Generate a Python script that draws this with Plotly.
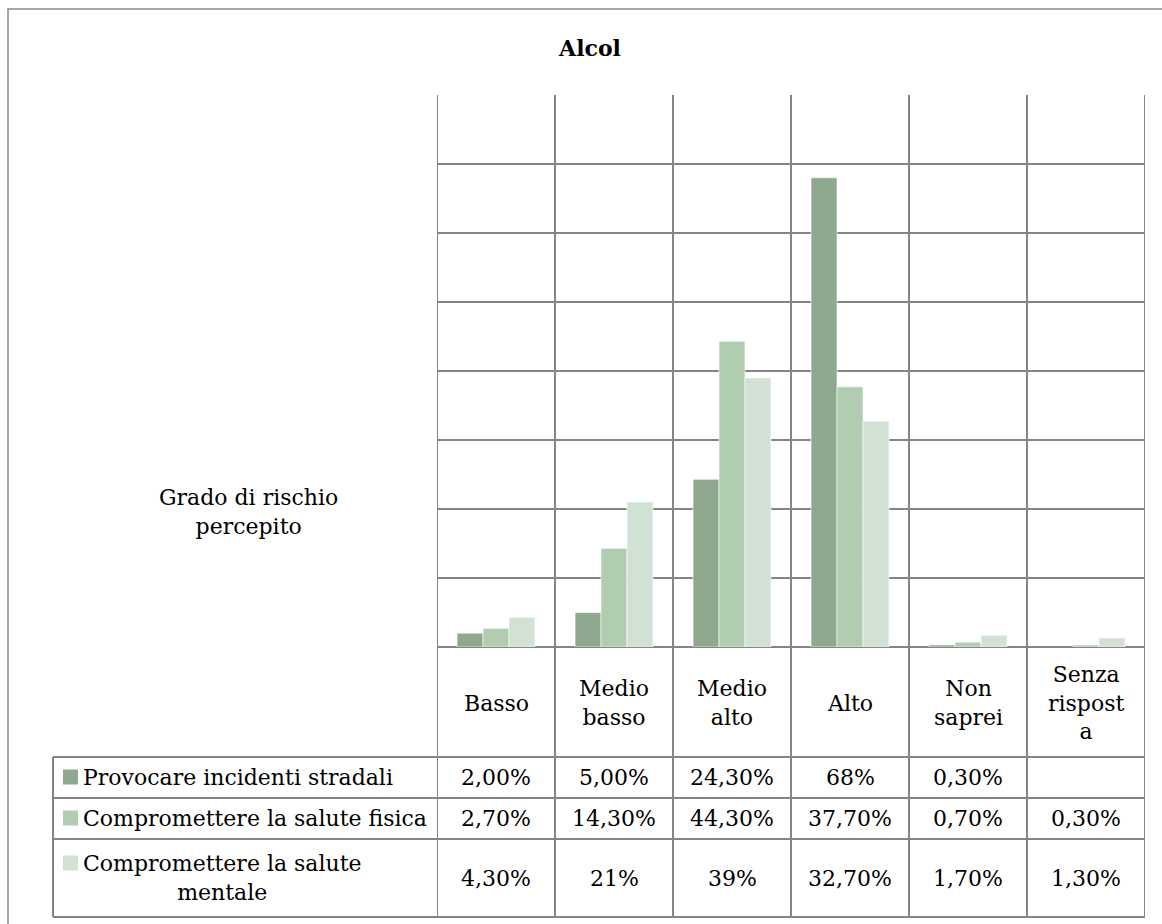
import plotly.graph_objects as go

# ---------------- data ----------------
categories = ["Basso", "Medio basso", "Medio alto", "Alto", "Non saprei", "Senza risposta"]
header_labels = ["Basso", "Medio<br>basso", "Medio<br>alto", "Alto", "Non<br>saprei", "Senza<br>rispost<br>a"]

series_names = ["Provocare incidenti stradali",
                "Compromettere la salute fisica",
                "Compromettere la salute<br>mentale"]
incidenti = [2.0, 5.0, 24.3, 68.0, 0.3, None]
fisica = [2.7, 14.3, 44.3, 37.7, 0.7, 0.3]
mentale = [4.3, 21.0, 39.0, 32.7, 1.7, 1.3]

incidenti_lbl = ["2,00%", "5,00%", "24,30%", "68%", "0,30%", ""]
fisica_lbl = ["2,70%", "14,30%", "44,30%", "37,70%", "0,70%", "0,30%"]
mentale_lbl = ["4,30%", "21%", "39%", "32,70%", "1,70%", "1,30%"]

title_text = "Alcol"
y_title = "Grado di rischio<br>percepito"

# ---------------- style ----------------
colors = ["#8fa98f", "#b0cdb0", "#d1e1d4"]
FONT = "DejaVu Serif"
FS = 22
GRID = "#858585"
W, H = 1162, 924
L, R, T, B = 437, 17, 95, 277
PW, PH = W - L - R, H - T - B


def px_x(px):
    return (px - L) / PW


def px_y(py):
    return (H - B - py) / PH


fig = go.Figure()
for name, vals, col in zip(series_names, [incidenti, fisica, mentale], colors):
    fig.add_trace(go.Bar(x=categories, y=vals, name=name.replace("<br>", " "),
                         marker=dict(color=col, line=dict(color="white", width=0.6))))

shapes = []
# outer frame
shapes.append(dict(type="rect", xref="paper", yref="paper",
                   x0=px_x(8), x1=px_x(1175), y0=px_y(935), y1=px_y(9),
                   line=dict(color="#8a8a8a", width=1.5)))
# vertical category separators (plot + table)
for i in range(len(categories) + 1):
    shapes.append(dict(type="line", xref="x", yref="paper",
                       x0=i - 0.5, x1=i - 0.5, y0=px_y(917), y1=1,
                       line=dict(color=GRID, width=2)))
# table left border
shapes.append(dict(type="line", xref="paper", yref="paper",
                   x0=px_x(53), x1=px_x(53), y0=px_y(917), y1=px_y(757),
                   line=dict(color=GRID, width=2)))
# table horizontal lines
for py in [757, 798, 839, 917]:
    shapes.append(dict(type="line", xref="paper", yref="paper",
                       x0=px_x(53), x1=1, y0=px_y(py), y1=px_y(py),
                       line=dict(color=GRID, width=2)))

annotations = []
# header labels
for i, lab in enumerate(header_labels):
    annotations.append(dict(x=categories[i], xref="x", y=px_y(703), yref="paper",
                            text=lab, showarrow=False, yanchor="middle",
                            font=dict(family=FONT, size=FS, color="black")))
# table values
row_y = [777, 818, 878]
for lbls, ry in zip([incidenti_lbl, fisica_lbl, mentale_lbl], row_y):
    for i, t in enumerate(lbls):
        if t:
            annotations.append(dict(x=categories[i], xref="x", y=px_y(ry), yref="paper",
                                    text=t, showarrow=False, yanchor="middle",
                                    font=dict(family=FONT, size=FS, color="black")))
# legend keys + names
key_y = [777, 818, 863]
for name, col, ry, ky in zip(series_names, colors, row_y, key_y):
    shapes.append(dict(type="rect", xref="paper", yref="paper",
                       x0=px_x(63), x1=px_x(78), y0=px_y(ky + 7.5), y1=px_y(ky - 7.5),
                       fillcolor=col, line=dict(width=0)))
    annotations.append(dict(x=px_x(81), xref="paper", y=px_y(ry), yref="paper",
                            text=name, showarrow=False, xanchor="left", yanchor="middle",
                            align="center",
                            font=dict(family=FONT, size=FS, color="black")))
# y axis title
annotations.append(dict(x=px_x(248), xref="paper", y=px_y(512), yref="paper",
                        text=y_title, showarrow=False, xanchor="center", yanchor="middle",
                        align="center", font=dict(family=FONT, size=FS, color="black")))

fig.update_layout(
    width=W, height=H,
    margin=dict(l=L, r=R, t=T, b=B),
    paper_bgcolor="white", plot_bgcolor="white",
    title=dict(text="<b>" + title_text + "</b>", xref="container", yref="container",
               x=590 / W, y=1 - 48 / H, xanchor="center", yanchor="middle",
               font=dict(family=FONT, size=22, color="black")),
    barmode="group", bargap=0.34, bargroupgap=0,
    showlegend=False,
    xaxis=dict(range=[-0.5, 5.5], showticklabels=False, showgrid=False, zeroline=False,
               showline=False, ticks=""),
    yaxis=dict(range=[0, 80], dtick=10, showticklabels=False, showgrid=True,
               gridcolor=GRID, gridwidth=2, zeroline=True, zerolinecolor=GRID,
               zerolinewidth=2, ticks=""),
    shapes=shapes, annotations=annotations,
)

fig.write_html("out.html", config={"displayModeBar": False},
               post_script="document.body.style.margin='0';document.body.style.overflow='hidden';")
